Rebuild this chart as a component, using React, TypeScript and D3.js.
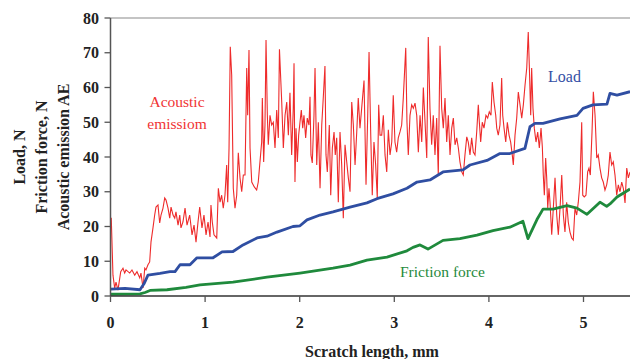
import React from "react";
import * as d3 from "d3";

const xTicks = [0, 1, 2, 3, 4, 5];
const yTicks = [0, 10, 20, 30, 40, 50, 60, 70, 80];

// [scratch length mm, value]
const acousticEmission: [number, number][] = [
  [0.008, 22.5], [0.026, 6], [0.044, 2.3], [0.058, 4], [0.079, 1.7], [0.108, 7], [0.132, 8], [0.15, 6.6],
  [0.164, 7.5], [0.203, 6.6], [0.227, 7.5], [0.256, 6], [0.28, 7], [0.309, 5.2], [0.322, 6.6], [0.344, 2.3],
  [0.362, 8], [0.375, 7.5], [0.396, 9], [0.414, 9.8], [0.428, 15.5], [0.449, 19.6], [0.467, 23.3], [0.481, 25.6],
  [0.502, 26.2], [0.52, 21], [0.534, 23.3], [0.555, 25.3], [0.573, 28.2], [0.587, 27.6], [0.608, 25.3], [0.626, 22.4],
  [0.64, 25.6], [0.661, 23.3], [0.679, 22.4], [0.692, 24.2], [0.714, 20.4], [0.732, 23.3], [0.745, 19.6], [0.766, 21.3],
  [0.788, 25.3], [0.809, 20.4], [0.837, 23.3], [0.862, 17.6], [0.883, 20.4], [0.904, 15.5], [0.925, 21.3], [0.943, 25.6],
  [0.967, 19.6], [0.988, 23.3], [1.01, 17.6], [1.031, 21.3], [1.052, 17], [1.062, 26.2], [1.076, 21.3], [1.094, 17.6],
  [1.123, 16.7], [1.14, 31], [1.158, 27], [1.175, 29], [1.192, 25.3], [1.21, 29], [1.228, 37.7], [1.239, 27],
  [1.253, 42.6], [1.266, 71.7], [1.281, 63.6], [1.298, 31], [1.316, 25.3], [1.334, 29], [1.351, 41.2], [1.369, 34],
  [1.387, 30], [1.404, 34.8], [1.422, 34.8], [1.44, 65.6], [1.45, 52], [1.464, 70.8], [1.475, 42.6], [1.493, 32.8],
  [1.52, 31.4], [1.545, 30.5], [1.562, 32.8], [1.58, 38.6], [1.598, 44.3], [1.605, 57], [1.619, 38.6], [1.633, 49.2],
  [1.644, 73.7], [1.658, 52], [1.668, 43.5], [1.686, 52], [1.704, 49.2], [1.721, 50], [1.739, 42.6], [1.757, 53.5],
  [1.774, 45.5], [1.786, 71], [1.81, 55.8], [1.827, 42.6], [1.845, 52], [1.863, 55.8], [1.88, 46.3], [1.897, 58.5],
  [1.915, 40.6], [1.932, 54], [1.94, 67], [1.95, 32.8], [1.961, 48.3], [1.975, 38.6], [1.989, 46.3], [2.003, 50],
  [2.017, 53.5], [2.032, 48.3], [2.045, 52], [2.063, 45.5], [2.08, 51.2], [2.098, 49.2], [2.109, 57.3], [2.119, 40.6],
  [2.133, 38.3], [2.151, 52], [2.162, 65.6], [2.18, 37.7], [2.197, 50], [2.215, 31], [2.233, 49.2], [2.249, 57],
  [2.267, 66.2], [2.278, 40.6], [2.292, 35.7], [2.313, 49.2], [2.328, 29], [2.345, 42.6], [2.363, 47.2], [2.376, 40.6],
  [2.391, 45.5], [2.408, 27], [2.426, 47.2], [2.444, 37.7], [2.461, 22.4], [2.479, 43.5], [2.497, 38.6], [2.514, 34],
  [2.532, 30], [2.55, 55.8], [2.567, 49.2], [2.585, 37.7], [2.603, 47.2], [2.619, 57], [2.637, 48.3], [2.655, 54],
  [2.68, 62], [2.701, 32], [2.719, 52], [2.733, 70.2], [2.751, 46.3], [2.767, 29], [2.785, 44.3], [2.803, 37.7],
  [2.82, 28.2], [2.835, 55], [2.849, 46.3], [2.867, 46.3], [2.884, 52], [2.902, 40.6], [2.92, 35.7], [2.937, 47.8],
  [2.955, 40.6], [2.973, 44.3], [2.989, 57.8], [3.007, 44.3], [3.025, 41.4], [3.042, 45.5], [3.06, 47.2], [3.078, 49.2],
  [3.095, 57], [3.121, 71.4], [3.134, 50], [3.148, 40.6], [3.166, 52], [3.184, 55], [3.201, 54], [3.219, 55.5],
  [3.237, 52], [3.254, 41.4], [3.272, 52], [3.29, 44.3], [3.307, 60], [3.325, 50], [3.343, 39.7], [3.359, 74.5],
  [3.377, 54], [3.395, 43.5], [3.412, 52], [3.43, 40.6], [3.448, 51.2], [3.465, 34.8], [3.483, 72], [3.501, 54],
  [3.518, 48.3], [3.536, 57], [3.554, 44.3], [3.571, 52], [3.589, 40.6], [3.607, 48.3], [3.624, 51.2], [3.642, 43.5],
  [3.66, 45.5], [3.677, 42.6], [3.694, 38.6], [3.713, 35.7], [3.729, 34.8], [3.747, 40.6], [3.766, 45.8], [3.782, 44.3],
  [3.8, 40.6], [3.818, 45.5], [3.835, 41.4], [3.853, 40.6], [3.871, 47.2], [3.888, 55], [3.899, 50], [3.913, 44.3],
  [3.93, 50], [3.948, 48.3], [3.969, 52], [3.987, 51.2], [4.004, 53], [4.022, 52], [4.036, 61.6], [4.054, 55.8],
  [4.072, 52], [4.083, 48.3], [4.099, 46.3], [4.117, 49.2], [4.135, 62.7], [4.146, 52], [4.16, 48.3], [4.178, 44.3],
  [4.195, 50], [4.213, 46.3], [4.23, 44.3], [4.247, 40.6], [4.258, 37.7], [4.276, 46.3], [4.294, 51.2], [4.311, 58.7],
  [4.329, 55], [4.347, 51.2], [4.364, 55], [4.382, 60.7], [4.4, 65.6], [4.416, 76], [4.427, 66.5], [4.442, 52],
  [4.452, 65.6], [4.466, 54], [4.48, 48.3], [4.498, 44.3], [4.516, 47.2], [4.533, 42.6], [4.551, 48.3], [4.565, 42.9],
  [4.575, 34.8], [4.586, 29], [4.6, 39.7], [4.611, 34], [4.622, 25.3], [4.635, 31], [4.646, 27], [4.664, 17.6],
  [4.681, 25.3], [4.699, 34], [4.717, 23.3], [4.734, 17.6], [4.752, 25.3], [4.77, 34.8], [4.787, 23.3], [4.804, 18.4],
  [4.822, 27], [4.839, 21.3], [4.857, 18.4], [4.875, 16.7], [4.892, 16.1], [4.91, 25.3], [4.928, 23.3], [4.945, 27],
  [4.963, 32.8], [4.981, 50], [4.992, 29], [5.008, 28.5], [5.026, 29], [5.044, 35.7], [5.058, 36.8], [5.072, 34.8],
  [5.09, 47.2], [5.104, 58.8], [5.122, 52], [5.14, 39.7], [5.156, 40.6], [5.174, 36.8], [5.192, 34], [5.209, 32.8],
  [5.227, 30.5], [5.245, 32], [5.262, 34.8], [5.28, 41.4], [5.298, 37.7], [5.315, 38.6], [5.333, 34.8], [5.351, 29],
  [5.368, 32], [5.386, 30], [5.404, 32.8], [5.421, 31], [5.439, 26.8], [5.457, 36.8], [5.474, 34], [5.492, 35.7],
];

const loadSeries: [number, number][] = [
  [0.005, 2], [0.153, 2.2], [0.312, 1.8], [0.354, 3.5], [0.396, 6], [0.523, 6.5], [0.629, 7], [0.682, 7],
  [0.735, 9], [0.84, 9], [0.914, 11], [1.0, 11], [1.084, 11], [1.179, 12.7], [1.295, 12.8], [1.401, 14.7],
  [1.549, 16.7], [1.654, 17.2], [1.76, 18.4], [1.929, 20], [2.003, 20.2], [2.077, 21.9], [2.215, 23.3], [2.352, 24.2],
  [2.532, 25.6], [2.711, 26.8], [2.817, 28], [2.986, 29.4], [3.134, 31], [3.24, 32.8], [3.377, 33.4], [3.515, 35.7],
  [3.726, 36.3], [3.8, 37.7], [3.98, 39], [4.117, 41], [4.222, 41], [4.381, 42.5], [4.434, 48.7], [4.487, 49.7],
  [4.572, 49.7], [4.752, 51], [4.931, 52], [4.995, 54], [5.1, 55], [5.248, 55.2], [5.28, 58.3], [5.354, 57.8],
  [5.492, 58.8],
];

const frictionSeries: [number, number][] = [
  [0.005, 0.5], [0.312, 0.6], [0.365, 1.0], [0.418, 1.6], [0.597, 1.8], [0.798, 2.5], [0.946, 3.2], [1.295, 4],
  [1.654, 5.4], [2.003, 6.6], [2.352, 8], [2.532, 8.9], [2.711, 10.3], [2.923, 11.2], [3.134, 13], [3.198, 14],
  [3.272, 14.7], [3.356, 13.5], [3.515, 16], [3.694, 16.5], [3.874, 17.5], [4.043, 18.8], [4.222, 19.8], [4.36, 21.5],
  [4.413, 16.5], [4.508, 22], [4.572, 25], [4.678, 25], [4.826, 26], [4.931, 25.3], [5.037, 23.5], [5.174, 27],
  [5.245, 25.8], [5.28, 26.5], [5.354, 28.5], [5.492, 30.8],
];

const serif = "'Liberation Serif', 'Times New Roman', serif";

export default function App() {
  const W = 630, H = 359;
  const x = d3.scaleLinear().domain([0, 5.5]).range([110.5, 630.8]);
  const y = d3.scaleLinear().domain([0, 80]).range([296, 18]);
  const line = d3.line<[number, number]>().x((d) => x(d[0])).y((d) => y(d[1]));
  const x0 = x(0);
  const xEnd = W;

  return (
    <svg width={W} height={H} style={{ position: "absolute", left: 0, top: 0, background: "#fff" }}>
      <rect x={0} y={0} width={W} height={H} fill="#fff" />
      {/* top frame */}
      <line x1={x0} x2={xEnd} y1={y(80)} y2={y(80)} stroke="#b0b0b0" strokeWidth={1.5} />
      {/* series */}
      <path d={line(acousticEmission) || ""} fill="none" stroke="#ee2b2b" strokeWidth={1.1} />
      <path d={line(frictionSeries) || ""} fill="none" stroke="#1f8a3c" strokeWidth={2.8} strokeLinejoin="round" />
      <path d={line(loadSeries) || ""} fill="none" stroke="#2f4ea2" strokeWidth={2.8} strokeLinejoin="round" />
      {/* axes */}
      <line x1={x0} x2={x0} y1={y(80)} y2={y(0)} stroke="#555" strokeWidth={1.5} />
      <line x1={x0} x2={xEnd} y1={y(0)} y2={y(0)} stroke="#333" strokeWidth={1.5} />
      {yTicks.map((t) => (
        <g key={"y" + t}>
          <line x1={x0 - 6} x2={x0} y1={y(t)} y2={y(t)} stroke="#555" strokeWidth={1.3} />
          <text x={99} y={y(t) + 5.5} textAnchor="end" fontFamily={serif} fontWeight="bold" fontSize={16} fill="#222">
            {t}
          </text>
        </g>
      ))}
      {xTicks.map((t) => (
        <g key={"x" + t}>
          <line x1={x(t)} x2={x(t)} y1={y(0)} y2={y(0) + 6} stroke="#555" strokeWidth={1.3} />
          <text x={x(t)} y={328} textAnchor="middle" fontFamily={serif} fontWeight="bold" fontSize={16} fill="#222">
            {t}
          </text>
        </g>
      ))}
      <text x={372} y={357} textAnchor="middle" fontFamily={serif} fontWeight="bold" fontSize={16} fill="#222">
        Scratch length, mm
      </text>
      {[
        { t: "Load, N", bx: 25 },
        { t: "Friction force, N", bx: 47 },
        { t: "Acoustic emission AE", bx: 69 },
      ].map((o) => (
        <text
          key={o.t}
          transform={`translate(${o.bx},157) rotate(-90)`}
          textAnchor="middle"
          fontFamily={serif}
          fontWeight="bold"
          fontSize={16}
          fill="#222"
        >
          {o.t}
        </text>
      ))}
      <text x={177} y={107} textAnchor="middle" fontFamily={serif} fontSize={15.5} fill="#f03434">
        Acoustic
      </text>
      <text x={177} y={129} textAnchor="middle" fontFamily={serif} fontSize={15.5} fill="#f03434">
        emissiom
      </text>
      <text x={548} y={82} fontFamily={serif} fontSize={16} fill="#3550a5">
        Load
      </text>
      <text x={400} y={277} fontFamily={serif} fontSize={15.5} fill="#1f8a3c">
        Friction force
      </text>
    </svg>
  );
}
